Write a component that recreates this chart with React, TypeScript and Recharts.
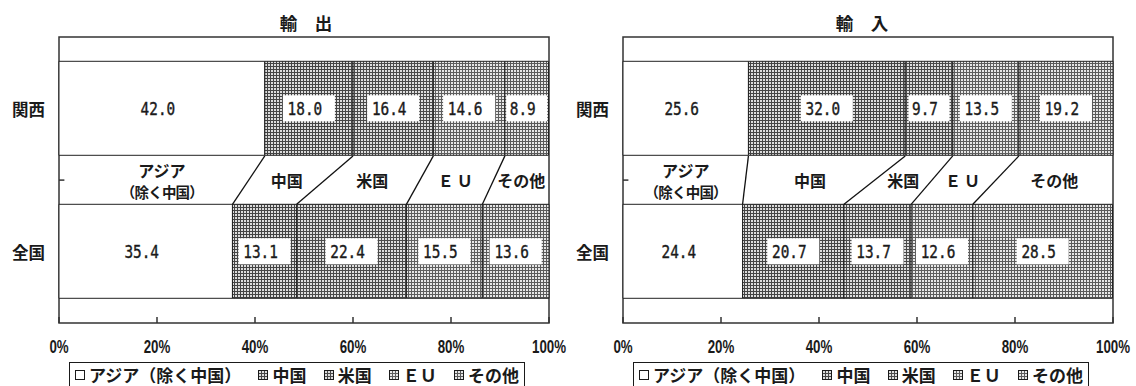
import React from 'react';
import {
  BarChart,
  Bar,
  XAxis,
  YAxis,
  ReferenceArea,
  LabelList,
  Legend,
} from 'recharts';

// Destinations / origins (stack order, left to right)
const SERIES_NAMES = ['アジア（除く中国）', '中国', '米国', 'ＥＵ', 'その他'];
// Region rows
const REGIONS = ['関西', '全国'];
// Shares (%) by destination
const EXPORT_KANSAI = [42.0, 18.0, 16.4, 14.6, 8.9];
const EXPORT_ZENKOKU = [35.4, 13.1, 22.4, 15.5, 13.6];
const IMPORT_KANSAI = [25.6, 32.0, 9.7, 13.5, 19.2];
const IMPORT_ZENKOKU = [24.4, 20.7, 13.7, 12.6, 28.5];
// Percent axis ticks
const X_TICKS = [0, 20, 40, 60, 80, 100];
// Labels written in the band between the two rows
const BAND_LABELS = [['アジア', '（除く中国）'], ['中国'], ['米国'], ['ＥＵ'], ['その他']];

// Hatch styles for the non-Asia series (index 0 is plain white)
const HATCH = [
  null,
  { bg: '#dcdcdc', line: '#444444' },
  { bg: '#dedede', line: '#4a4a4a' },
  { bg: '#e8e8e8', line: '#5e5e5e' },
  { bg: '#e6e6e6', line: '#5a5a5a' },
];

const GAP = 0.17; // barCategoryGap as a fraction of one row band
const JP = '"Noto Sans CJK JP", "Noto Sans", sans-serif';
const INK = '#1a1a1a';
const FRAME = '#333333';

const cumulative = (vals: number[], n: number) => vals.slice(0, n).reduce((a, b) => a + b, 0);

const ValueBox = ({ cx, cy, value }: { cx: number; cy: number; value: number }) => {
  const text = Number(value).toFixed(1);
  const bw = text.length * 11 + 8;
  const bh = 26;
  return (
    <g>
      <rect x={cx - bw / 2} y={cy - bh / 2} width={bw} height={bh} fill="#ffffff" />
      <text
        transform={`translate(${cx - 4},${cy + 1}) scale(0.82,1)`}
        textAnchor="middle"
        dominantBaseline="central"
        fontFamily='"DejaVu Sans Mono", monospace'
        fontSize={17.5}
        fill={INK}
        stroke={INK}
        strokeWidth={0.4}
      >
        {text}
      </text>
    </g>
  );
};

const BandLabel = ({ cx, cy, lines }: { cx: number; cy: number; lines: string[] }) => {
  const common = {
    textAnchor: 'middle' as const,
    fontFamily: JP,
    fontWeight: 700,
    fill: INK,
  };
  if (lines.length === 1) {
    return (
      <text
        x={cx}
        y={cy}
        dominantBaseline="central"
        fontSize={16}
        letterSpacing={lines[0] === 'ＥＵ' ? 3 : 0}
        {...common}
      >
        {lines[0]}
      </text>
    );
  }
  return (
    <text x={cx} y={cy - 10.5} dominantBaseline="central" fontSize={14.5} {...common}>
      <tspan x={cx} fontSize={16}>
        {lines[0]}
      </tspan>
      <tspan x={cx} dy={21} letterSpacing={-0.8}>
        {lines[1]}
      </tspan>
    </text>
  );
};

// Label renderer for series i: value box on each bar; on the lower row it also
// draws the join line to the upper row and the band caption, using the bar's
// own geometry (pixels per percent and the row gap).
const makeSeriesLabel = (i: number, upper: number[], lower: number[]) => (props: any) => {
  const vb = props.viewBox && props.viewBox.width != null ? props.viewBox : props;
  const { x, y, width, height } = vb;
  let v = props.value;
  if (Array.isArray(v)) v = v[1] - v[0];
  const box = <ValueBox cx={x + width / 2} cy={y + height / 2} value={v} />;
  if (props.index !== 1) return box;

  const ppu = width / lower[i];
  const x0 = x - cumulative(lower, i) * ppu;
  const rowGap = (height * (2 * GAP)) / (1 - 2 * GAP);
  const bandMid = y - rowGap / 2;
  const upperCenter = x0 + (cumulative(upper, i) + upper[i] / 2) * ppu;
  const lowerCenter = x + width / 2;
  // the two-line caption sits under the upper segment; others between both centres
  const labelX = i === 0 ? upperCenter : (upperCenter + lowerCenter) / 2;
  return (
    <g>
      {box}
      {i > 0 ? (
        <line
          x1={x0 + cumulative(upper, i) * ppu}
          y1={y - rowGap}
          x2={x}
          y2={y}
          stroke="#111111"
          strokeWidth={1.3}
        />
      ) : (
        <line x1={x0} y1={bandMid} x2={x0 + 1.1 * ppu} y2={bandMid} stroke={FRAME} strokeWidth={1.5} />
      )}
      <BandLabel cx={labelX} cy={bandMid} lines={BAND_LABELS[i]} />
    </g>
  );
};

const PercentTick = (props: any) => {
  const { x, y, payload } = props;
  return (
    <text
      transform={`translate(${x},${y}) scale(0.74,1)`}
      textAnchor="middle"
      dominantBaseline="central"
      fontFamily='"Liberation Sans", Arial, sans-serif'
      fontWeight={700}
      fontSize={18}
      fill={INK}
    >
      {`${payload.value}%`}
    </text>
  );
};

const RegionTick = (props: any) => {
  const { x, y, payload } = props;
  return (
    <text
      x={x}
      y={y}
      textAnchor="end"
      dominantBaseline="central"
      fontFamily={JP}
      fontWeight={700}
      fontSize={16.5}
      fill={INK}
    >
      {payload.value}
    </text>
  );
};

const LegendBox = ({ fills }: { fills: string[] }) => (
  <div
    style={{
      boxSizing: 'border-box',
      width: 456,
      height: 24,
      border: `1.5px solid ${INK}`,
      borderBottom: 'none',
      background: '#ffffff',
      display: 'flex',
      justifyContent: 'space-between',
      alignItems: 'center',
      padding: '0 5px',
      fontFamily: JP,
      fontWeight: 700,
      fontSize: 17,
      lineHeight: 1,
      color: INK,
    }}
  >
    {SERIES_NAMES.map((name, i) => (
      <span key={name} style={{ display: 'flex', alignItems: 'center' }}>
        <svg width={10} height={10} style={{ display: 'block' }}>
          <rect x={0.5} y={0.5} width={9} height={9} fill={fills[i]} stroke={INK} strokeWidth={1} />
        </svg>
        <span style={{ marginLeft: 4 }}>{name}</span>
      </span>
    ))}
  </div>
);

type PanelProps = {
  id: string;
  title: string;
  titleX: number;
  kansai: number[];
  zenkoku: number[];
  left: number;
};

function TradePanel({ id, title, titleX, kansai, zenkoku, left }: PanelProps) {
  const rows = [kansai, zenkoku];
  const data = REGIONS.map((region, r) => {
    const row: Record<string, any> = { region };
    rows[r].forEach((v, i) => {
      row[`s${i}`] = v;
    });
    return row;
  });

  const fills = SERIES_NAMES.map((_, i) => (HATCH[i] ? `url(#${id}-hatch${i})` : '#ffffff'));

  return (
    <div style={{ position: 'absolute', left, top: 0 }}>
      <BarChart
        width={568}
        height={386}
        data={data}
        layout="vertical"
        margin={{ top: 37, right: 19, bottom: 0, left: 0 }}
        barCategoryGap={`${GAP * 100}%`}
      >
        <defs>
          {HATCH.map((h, i) =>
            h ? (
              <pattern
                key={i}
                id={`${id}-hatch${i}`}
                width={3}
                height={3}
                patternUnits="userSpaceOnUse"
              >
                <rect width={3} height={3} fill={h.bg} />
                <path d="M0 0.5H3M0.5 0V3" stroke={h.line} strokeWidth={1} />
              </pattern>
            ) : null
          )}
        </defs>
        <text
          x={titleX}
          y={22}
          textAnchor="middle"
          dominantBaseline="central"
          fontFamily={JP}
          fontWeight={700}
          fontSize={17.5}
          fill={INK}
        >
          {title}
        </text>
        <XAxis
          type="number"
          domain={[0, 100]}
          ticks={X_TICKS}
          interval={0}
          height={63}
          axisLine={false}
          tickSize={-6}
          tickMargin={29.5}
          tickLine={{ stroke: FRAME, strokeWidth: 1.5 }}
          tick={PercentTick}
        />
        <YAxis
          type="category"
          dataKey="region"
          width={59}
          axisLine={false}
          tickLine={false}
          tickSize={0}
          tickMargin={14}
          tick={RegionTick}
        />
        {SERIES_NAMES.map((name, i) => (
          <Bar
            key={name}
            dataKey={`s${i}`}
            name={name}
            stackId="share"
            fill={fills[i]}
            stroke="#222222"
            strokeWidth={1}
            isAnimationActive={false}
          >
            <LabelList dataKey={`s${i}`} content={makeSeriesLabel(i, kansai, zenkoku)} />
          </Bar>
        ))}
        <ReferenceArea
          x1={0}
          x2={100}
          fill="none"
          stroke={FRAME}
          strokeWidth={1.5}
          ifOverflow="visible"
        />
        <Legend
          layout="horizontal"
          verticalAlign="middle"
          align="center"
          wrapperStyle={{ position: 'absolute', left: 69, top: 362, width: 456 }}
          content={() => <LegendBox fills={fills} />}
        />
      </BarChart>
    </div>
  );
}

export default function App() {
  return (
    <div
      style={{
        position: 'fixed',
        left: 0,
        top: 0,
        width: 1136,
        height: 386,
        background: '#ffffff',
        overflow: 'hidden',
      }}
    >
      <TradePanel
        id="exp"
        title="輸　出"
        titleX={306}
        kansai={EXPORT_KANSAI}
        zenkoku={EXPORT_ZENKOKU}
        left={0}
      />
      <TradePanel
        id="imp"
        title="輸　入"
        titleX={298}
        kansai={IMPORT_KANSAI}
        zenkoku={IMPORT_ZENKOKU}
        left={564}
      />
    </div>
  );
}
